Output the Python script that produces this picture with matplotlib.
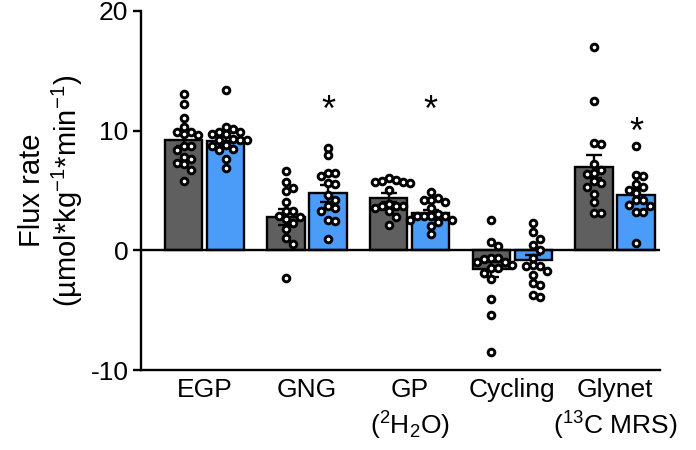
import numpy as np
import matplotlib
matplotlib.use("Agg")
import matplotlib.pyplot as plt

plt.rcParams['font.family'] = ['Liberation Sans', 'DejaVu Sans']
plt.rcParams['mathtext.fontset'] = 'custom'
plt.rcParams['mathtext.rm'] = 'Liberation Sans'
plt.rcParams['mathtext.it'] = 'Liberation Sans:italic'
plt.rcParams['mathtext.bf'] = 'Liberation Sans:bold'

categories = ['EGP', 'GNG', 'GP\n($^2$H$_2$O)', 'Cycling', 'Glynet\n($^{13}$C MRS)']

grey_means = [9.2, 2.8, 4.4, -1.6, 7.0]
blue_means = [9.1, 4.75, 3.1, -0.8, 4.6]
grey_sem = [0.5, 0.65, 0.35, 0.6, 0.95]
blue_sem = [0.35, 0.7, 0.3, 0.45, 0.55]

grey_egp = [13.1, 12.2, 11.1, 10.3, 9.7, 9.9, 9.6, 9.9, 8.75, 8.4, 8.75, 7.6, 7.8, 7.2, 6.7, 7.3, 5.8]
blue_egp = [13.4, 10.3, 9.9, 9.7, 10.1, 9.7, 9.9, 9.2, 9.3, 8.8, 9.2, 8.75, 9.2, 8.5, 8.4, 7.6, 6.9]
grey_gng = [6.67, 5.7, 4.95, 5.2, 4.0, 3.3, 2.6, 2.9, 2.8, 3.3, 2.3, 1.8, 1.0, 0.5, -2.3]
blue_gng = [8.55, 7.97, 6.5, 6.2, 6.45, 5.6, 5.55, 4.6, 4.2, 3.5, 3.7, 3.3, 2.5, 2.45, 0.97]
grey_gp = [6.05, 5.7, 5.6, 5.7, 5.9, 5.8, 5.0, 3.9, 3.7, 3.7, 3.7, 3.5, 3.3, 2.8, 2.1]
blue_gp = [4.86, 4.17, 4.4, 4.0, 4.17, 3.5, 2.9, 2.9, 3.0, 2.83, 2.9, 2.5, 2.36, 2.5, 2.0, 1.4]
grey_cyc = [2.5, 0.7, 0.36, -0.64, -1.2, -1.0, -0.7, -1.0, -0.64, -1.5, -1.5, -1.9, -2.4, -4.1, -5.4, -8.5]
blue_cyc = [2.3, 1.5, 0.97, 0.42, 0.05, -0.64, -1.3, -1.25, -1.3, -2.1, -1.75, -2.9, -2.7, -3.9, -3.7]
grey_gly = [17.0, 12.5, 9.0, 8.9, 7.2, 6.7, 6.5, 6.4, 5.8, 5.6, 5.3, 4.7, 4.0, 3.1, 3.1]
blue_gly = [8.75, 6.25, 6.3, 5.55, 5.3, 5.0, 4.8, 4.2, 4.2, 3.75, 3.67, 3.2, 3.2, 0.6]

grey_points = [grey_egp, grey_gng, grey_gp, grey_cyc, grey_gly]
blue_points = [blue_egp, blue_gng, blue_gp, blue_cyc, blue_gly]

star_groups = [1, 2, 4]
star_level = [11.6, 11.6, 9.8]

GREY = '#5f5f5f'
BLUE = '#4b9bf8'

fig = plt.figure(figsize=(6.96, 4.5), dpi=100)
ax = fig.add_axes([141/696, 80/450, (660-141)/696, (370-11)/450])
ax.set_xlim(-0.62, 4.44)
ax.set_ylim(-10, 20)

x = np.arange(len(categories))
off = 0.205
w = 0.365

ax.bar(x - off, grey_means, width=w, color=GREY, edgecolor='black', linewidth=1.7, zorder=2)
ax.bar(x + off, blue_means, width=w, color=BLUE, edgecolor='black', linewidth=1.7, zorder=2)
ax.errorbar(x - off, grey_means, yerr=grey_sem, fmt='none', ecolor='black', elinewidth=1.7,
            capsize=6, capthick=1.7, zorder=3)
ax.errorbar(x + off, blue_means, yerr=blue_sem, fmt='none', ecolor='black', elinewidth=1.7,
            capsize=6, capthick=1.7, zorder=3)
ax.axhline(0, color='black', lw=1.7, zorder=2.5)

fig.canvas.draw()
bb = ax.get_window_extent()
ppx = bb.width / (ax.get_xlim()[1] - ax.get_xlim()[0])
ppy = bb.height / (ax.get_ylim()[1] - ax.get_ylim()[0])


def swarm(vals, d=7.0):
    vals = np.asarray(vals, float)
    order = np.argsort(-vals)
    placed = []
    xs = np.zeros(len(vals))
    for i in order:
        yp = vals[i] * ppy
        cands = [0.0]
        for k in range(1, 30):
            cands += [k * d, -k * d]
        for c in cands:
            ok = True
            for (px, py) in placed:
                if (px - c) ** 2 + (py - yp) ** 2 < (d * 0.98) ** 2:
                    ok = False
                    break
            if ok:
                xs[i] = c
                placed.append((c, yp))
                break
    return xs / ppx


for i in range(len(categories)):
    for pts, sgn in ((grey_points[i], -1), (blue_points[i], 1)):
        dx = swarm(pts)
        ax.plot(x[i] + sgn * off + dx, pts, 'o', ms=4.8, mfc='white', mec='black', mew=2.1,
                zorder=4, clip_on=False)

for g, lv in zip(star_groups, star_level):
    ax.text(x[g] + off, lv, '*', ha='center', va='center', fontsize=26, color='black')

for s in ['top', 'right']:
    ax.spines[s].set_visible(False)
ax.spines['left'].set_linewidth(1.7)
ax.spines['bottom'].set_linewidth(1.7)
ax.set_yticks([-10, 0, 10, 20])
ax.set_yticklabels(['-10', '0', '10', '20'])
ax.tick_params(axis='y', length=6, width=1.7, labelsize=19, pad=3)
ax.set_xticks(x)
ax.set_xticklabels(categories, fontsize=19, linespacing=1.3)
ax.tick_params(axis='x', length=0, pad=6)
ax.set_ylabel('Flux rate\n(µmol*kg$^{-1}$*min$^{-1}$)', fontsize=21, labelpad=4, linespacing=1.15)

fig.savefig('out.png', dpi=100)
